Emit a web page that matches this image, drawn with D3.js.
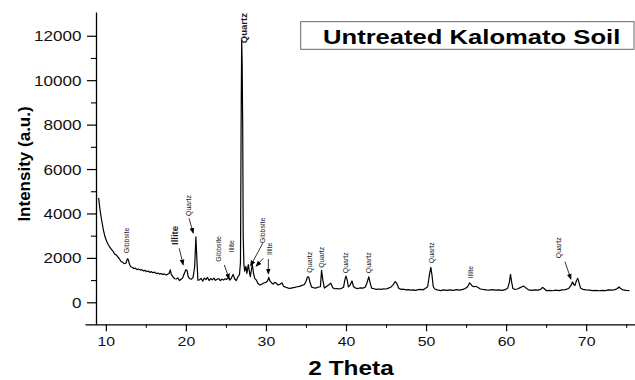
<!DOCTYPE html>
<html>
<head>
<meta charset="utf-8">
<script src="https://cdn.jsdelivr.net/npm/d3@7"></script>
<style>
  body { margin: 0; background: #fff; }
  svg { display: block; font-family: "Liberation Sans", Arial, sans-serif; }
</style>
</head>
<body>
<script>
// XRD scan: [2 theta, intensity]
const scan = [
  [9.1,4700],[9.3,4100],[9.5,3650],[9.7,3250],[9.9,2950],[10.1,2750],[10.3,2600],[10.5,2480],
  [10.7,2380],[10.9,2300],[11.1,2180],[11.3,2130],[11.5,2040],[11.7,1960],[11.9,1840],[12.1,1800],
  [12.3,1740],[12.5,1760],[12.7,1960],[12.8,1930],[12.95,1720],[13.1,1600],[13.3,1580],[13.5,1520],
  [13.7,1540],[13.9,1470],[14.1,1500],[14.3,1450],[14.5,1470],[14.7,1410],[14.9,1440],[15.1,1380],
  [15.3,1410],[15.5,1350],[15.7,1380],[15.9,1330],[16.1,1360],[16.3,1290],[16.5,1320],[16.7,1270],
  [16.9,1300],[17.1,1250],[17.3,1280],[17.5,1230],[17.7,1260],[17.9,1300],[18.05,1460],[18.2,1230],
  [18.4,1140],[18.6,1060],[18.8,1050],[19.0,1100],[19.2,980],[19.4,1040],[19.6,1100],[19.8,1300],
  [20.0,1470],[20.15,1430],[20.3,1150],[20.5,1060],[20.7,1040],[20.9,1120],[21.1,1600],[21.25,2950],
  [21.38,1900],[21.5,1000],[21.7,1010],[21.9,1080],[22.1,950],[22.3,1090],[22.5,1020],[22.7,1120],
  [22.9,980],[23.1,1070],[23.3,1010],[23.5,1090],[23.7,990],[23.9,1040],[24.1,1070],[24.3,980],
  [24.5,1040],[24.7,1000],[24.9,1060],[25.1,1030],[25.3,1120],[25.5,1000],[25.7,1100],[25.9,1260],
  [26.1,1050],[26.3,980],[26.5,1150],[26.7,1250],[26.82,1800],[26.9,8000],[26.97,11800],[27.03,10800],
  [27.1,7800],[27.16,3000],[27.25,1700],[27.35,1400],[27.5,1620],[27.62,1300],[27.8,1700],[27.95,1350],
  [28.05,1150],[28.2,1500],[28.3,1700],[28.45,1300],[28.6,1080],[28.8,1000],[29.0,850],[29.25,780],
  [29.5,820],[29.8,880],[30.0,900],[30.2,960],[30.35,1120],[30.5,960],[30.7,870],[30.9,820],
  [31.1,900],[31.3,860],[31.5,780],[31.8,820],[32.0,880],[32.2,720],[32.5,680],[32.8,640],
  [33.0,630],[33.3,650],[33.6,670],[33.9,700],[34.2,720],[34.5,760],[34.8,800],[35.0,940],
  [35.2,1150],[35.35,1140],[35.5,900],[35.7,690],[35.9,660],[36.2,640],[36.5,680],[36.8,700],
  [36.95,1440],[37.1,1020],[37.3,640],[37.6,720],[37.9,800],[38.1,860],[38.35,660],[38.6,610],
  [38.9,620],[39.2,600],[39.5,640],[39.7,680],[39.85,1000],[40.0,1180],[40.15,1000],[40.3,690],
  [40.55,800],[40.75,960],[40.95,700],[41.2,640],[41.5,620],[41.8,650],[42.1,640],[42.4,680],
  [42.6,850],[42.85,1150],[43.0,900],[43.2,640],[43.5,610],[43.8,580],[44.1,600],[44.4,580],
  [44.7,610],[45.0,600],[45.3,640],[45.6,680],[45.9,800],[46.15,930],[46.35,850],[46.6,620],
  [46.9,580],[47.2,590],[47.5,560],[47.8,570],[48.1,550],[48.4,560],[48.7,540],[49.0,570],
  [49.3,580],[49.6,560],[49.9,620],[50.2,700],[50.45,1300],[50.6,1570],[50.75,1200],[50.9,700],
  [51.1,600],[51.4,560],[51.8,530],[52.2,560],[52.6,540],[53.0,560],[53.4,540],[53.8,570],
  [54.2,550],[54.6,580],[54.9,620],[55.2,700],[55.45,880],[55.7,760],[55.95,700],[56.2,720],
  [56.5,670],[56.8,600],[57.1,580],[57.5,560],[57.9,550],[58.3,570],[58.7,550],[59.1,560],
  [59.5,540],[59.9,570],[60.2,640],[60.4,900],[60.55,1260],[60.7,900],[60.85,620],[61.1,580],
  [61.4,600],[61.7,650],[62.0,700],[62.2,730],[62.5,640],[62.8,560],[63.2,540],[63.6,560],
  [64.0,550],[64.3,580],[64.55,670],[64.75,620],[65.0,530],[65.4,540],[65.8,520],[66.2,550],
  [66.6,530],[67.0,560],[67.4,570],[67.8,620],[68.1,760],[68.3,920],[68.45,800],[68.6,760],
  [68.8,980],[68.95,1080],[69.1,900],[69.3,640],[69.6,580],[70.0,560],[70.4,550],[70.8,530],
  [71.2,540],[71.6,520],[72.0,540],[72.4,530],[72.8,560],[73.2,550],[73.6,570],[73.9,620],
  [74.1,690],[74.3,620],[74.6,560],[75.0,540],[75.4,530]
];

// phase labels: name, 2 theta of label, intensity at label foot
const phaseNames = ["Gibbsite","Illite","Quartz","Gibbsite","Illite","Quartz","Gibbsite","Illite",
  "Quartz","Quartz","Quartz","Quartz","Quartz","Illite","Quartz"];
const phaseTheta = [12.6, 18.64, 20.3, 24.05, 25.72, 27.2, 29.6, 30.45,
  35.5, 36.97, 39.88, 42.87, 50.62, 55.49, 66.52];
const phaseLevel = [2207, 2581, 3887, 1829, 2243, 11667, 2658, 2130,
  1333, 1558, 1306, 1306, 1757, 1081, 1982];
const majorLabels = [1, 5];

// pointer arrows [2 theta, intensity] start and end
const arrowStart = [[19.17,2432],[20.39,3784],[24.8,1680],[29.6,2658],[29.67,1982],[30.3,1950],[67.35,1829]];
const arrowEnd   = [[19.67,1680],[20.93,3108],[25.42,1050],[28.07,1635],[28.76,1622],[30.3,1275],[68.1,1036]];

const yMajor = [0, 2000, 4000, 6000, 8000, 10000, 12000];
const yMinor = [1000, 3000, 5000, 7000, 9000, 11000];
const xMajor = [10, 20, 30, 40, 50, 60, 70];
const xMinor = [15, 25, 35, 45, 55, 65, 75];

const W = 635, H = 380;
const stretch = 1.22;

const svg = d3.select('body').append('svg')
  .attr('width', W)
  .attr('height', H);

const x = d3.scaleLinear().domain([7.4, 76.1]).range([85, 635]);
const y = d3.scaleLinear().domain([-990, 13070]).range([324.3, 12]);

svg.append('defs').append('marker')
  .attr('id', 'head')
  .attr('markerUnits', 'userSpaceOnUse')
  .attr('viewBox', '0 0 10 10')
  .attr('refX', 9).attr('refY', 5)
  .attr('markerWidth', 6).attr('markerHeight', 6)
  .attr('orient', 'auto')
  .append('path')
  .attr('d', 'M0,1 L10,5 L0,9 Z')
  .attr('fill', '#000');

// y axis
const yAxisG = svg.append('g').attr('transform', 'translate(96,0)')
  .call(d3.axisLeft(y).tickValues(yMajor).tickFormat(d3.format('d'))
    .tickSize(9).tickSizeOuter(0));
yAxisG.select('.domain').attr('stroke', '#000').attr('stroke-width', 1.3);
yAxisG.selectAll('.tick line').attr('stroke-width', 1.2);
yAxisG.selectAll('.tick text')
  .attr('font-size', 14)
  .attr('font-family', '"Liberation Sans", Arial, sans-serif')
  .attr('fill', '#111')
  .attr('x', -14.5 / stretch)
  .attr('dy', '0.36em')
  .attr('transform', `scale(${stretch},1)`);

svg.append('g').attr('transform', 'translate(96,0)')
  .call(d3.axisLeft(y).tickValues(yMinor).tickSize(5).tickFormat(''))
  .call(g => g.select('.domain').remove())
  .selectAll('.tick line').attr('stroke-width', 1.1);

// x axis
const xAxisG = svg.append('g').attr('transform', 'translate(0,324.3)')
  .call(d3.axisBottom(x).tickValues(xMajor).tickSize(7).tickSizeOuter(0));
xAxisG.select('.domain').attr('stroke', '#000').attr('stroke-width', 1.3);
xAxisG.selectAll('.tick line').attr('stroke-width', 1.2);
xAxisG.selectAll('.tick text')
  .attr('font-size', 13)
  .attr('font-family', '"Liberation Sans", Arial, sans-serif')
  .attr('fill', '#111')
  .attr('y', 22).attr('dy', 0)
  .attr('transform', `scale(${stretch},1)`);

svg.append('g').attr('transform', 'translate(0,324.3)')
  .call(d3.axisBottom(x).tickValues(xMinor).tickSize(3.5).tickFormat(''))
  .call(g => g.select('.domain').remove())
  .selectAll('.tick line').attr('stroke-width', 1.1);

// diffraction pattern
svg.append('path')
  .datum(scan)
  .attr('fill', 'none')
  .attr('stroke', '#000')
  .attr('stroke-width', 1.2)
  .attr('stroke-linejoin', 'round')
  .attr('d', d3.line().x(d => x(d[0])).y(d => y(d[1])));

// arrows
svg.append('g').selectAll('line')
  .data(arrowStart)
  .enter()
  .append('line')
  .attr('x1', d => x(d[0]))
  .attr('y1', d => y(d[1]))
  .attr('x2', (d, i) => x(arrowEnd[i][0]))
  .attr('y2', (d, i) => y(arrowEnd[i][1]))
  .attr('stroke', '#000')
  .attr('stroke-width', 0.8)
  .attr('marker-end', 'url(#head)');

// phase labels, written bottom to top
svg.append('g').selectAll('text')
  .data(phaseNames)
  .enter()
  .append('text')
  .attr('transform', (d, i) => `translate(${x(phaseTheta[i])},${y(phaseLevel[i])}) rotate(-90)`)
  .attr('dominant-baseline', 'central')
  .attr('font-size', (d, i) => majorLabels.includes(i) ? 9.5 : 7)
  .attr('font-weight', (d, i) => majorLabels.includes(i) ? 'bold' : 'normal')
  .attr('fill', '#1b1b2b')
  .text(d => d);

// axis titles
svg.append('text')
  .attr('transform', 'translate(29.5,164) rotate(-90)')
  .attr('text-anchor', 'middle')
  .attr('font-size', 17)
  .attr('font-weight', 'bold')
  .text('Intensity (a.u.)');

svg.append('text')
  .attr('transform', `translate(351,375) scale(${stretch},1)`)
  .attr('text-anchor', 'middle')
  .attr('font-size', 20)
  .attr('font-weight', 'bold')
  .text('2 Theta');

// title box
svg.append('rect')
  .attr('x', 300.7).attr('y', 21.7)
  .attr('width', 333.3).attr('height', 27.6)
  .attr('fill', 'none')
  .attr('stroke', '#666')
  .attr('stroke-width', 1);

svg.append('text')
  .attr('transform', `translate(323,44.3) scale(${stretch},1)`)
  .attr('font-size', 21)
  .attr('font-weight', 'bold')
  .text('Untreated Kalomato Soil');
</script>
</body>
</html>
